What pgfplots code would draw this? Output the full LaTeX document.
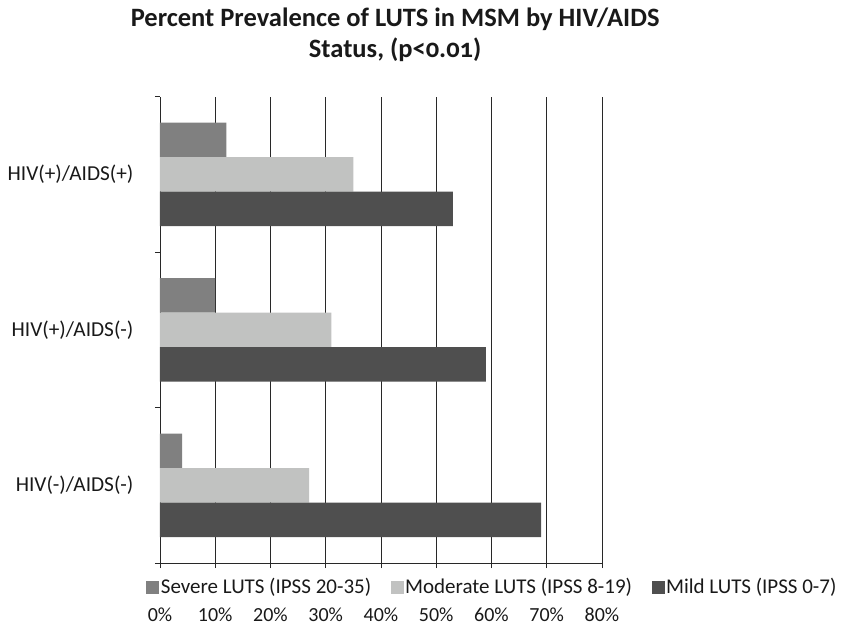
\documentclass[border=0pt]{standalone}
\usepackage{fontspec}
\setmainfont{Carlito}
\usepackage{pgfplots}
\pgfplotsset{compat=1.18}
\definecolor{severe}{RGB}{128,128,128}
\definecolor{moderate}{RGB}{193,194,193}
\definecolor{mild}{RGB}{79,79,79}
\definecolor{gridc}{RGB}{40,40,40}
\pgfplotsset{sq/.style={legend image code/.code={\fill[##1,draw=none] (0bp,-6.5bp) rectangle (13bp,6.5bp);}}}
\begin{document}
\begin{tikzpicture}
\useasboundingbox (-160bp,-62bp) rectangle (681bp,563bp);
\begin{axis}[
  at={(0,0)}, anchor=south west,
  scale only axis, width=442bp, height=466.3bp,
  xbar, bar width=0.222,
  xmin=0, xmax=80, ymin=-0.5, ymax=2.5,
  axis x line=bottom, axis y line=left,
  axis line style={-, gridc, line width=0.8bp},
  xtick={0,10,...,80},
  xticklabels={0\%,10\%,20\%,30\%,40\%,50\%,60\%,70\%,80\%},
  xmajorgrids, grid style={gridc, line width=0.8bp},
  tick align=outside, major tick length=5bp,
  tick style={gridc, line width=0.8bp},
  ytick={-0.5,0.5,1.5,2.5}, yticklabels={,,,},
  extra y ticks={0,1,2},
  extra y tick labels={HIV(-)/AIDS(-),HIV(+)/AIDS(-),HIV(+)/AIDS(+)},
  extra y tick style={ymajorgrids=false, major tick length=0pt,
    yticklabel style={xshift=-23bp, font=\fontsize{21.3bp}{26bp}\selectfont}},
  every tick label/.append style={font=\fontsize{20bp}{24bp}\selectfont, text=black!90},
  xticklabel style={yshift=-36bp},
  title={Percent Prevalence of LUTS in MSM by HIV/AIDS\\Status, (p<0.01)},
  title style={font=\bfseries\fontsize{26.5bp}{31bp}\selectfont\addfontfeature{Numbers=OldStyle}, align=center,
    at={(axis description cs:0.532,1)}, anchor=south, yshift=26bp, text=black!90},
  legend columns=3,
  legend style={at={(axis description cs:-0.038,-0.0515)}, anchor=west,
    draw=none, fill=none, font=\fontsize{21bp}{25bp}\selectfont, text=black!90,
    /tikz/every even column/.append style={column sep=18bp},
    /tikz/every odd column/.append style={column sep=0bp},
    nodes={inner sep=1.5bp}},
  legend cell align=left,
]
\addplot[fill=severe, draw=none, bar shift=0.222, sq] coordinates {(4,0) (10,1) (12,2)};
\addlegendentry{Severe LUTS (IPSS 20-35)}
\addplot[fill=moderate, draw=none, bar shift=0, sq] coordinates {(27,0) (31,1) (35,2)};
\addlegendentry{Moderate LUTS (IPSS 8-19)}
\addplot[fill=mild, draw=none, bar shift=-0.222, sq] coordinates {(69,0) (59,1) (53,2)};
\addlegendentry{Mild LUTS (IPSS 0-7)}
\end{axis}
\end{tikzpicture}
\end{document}
